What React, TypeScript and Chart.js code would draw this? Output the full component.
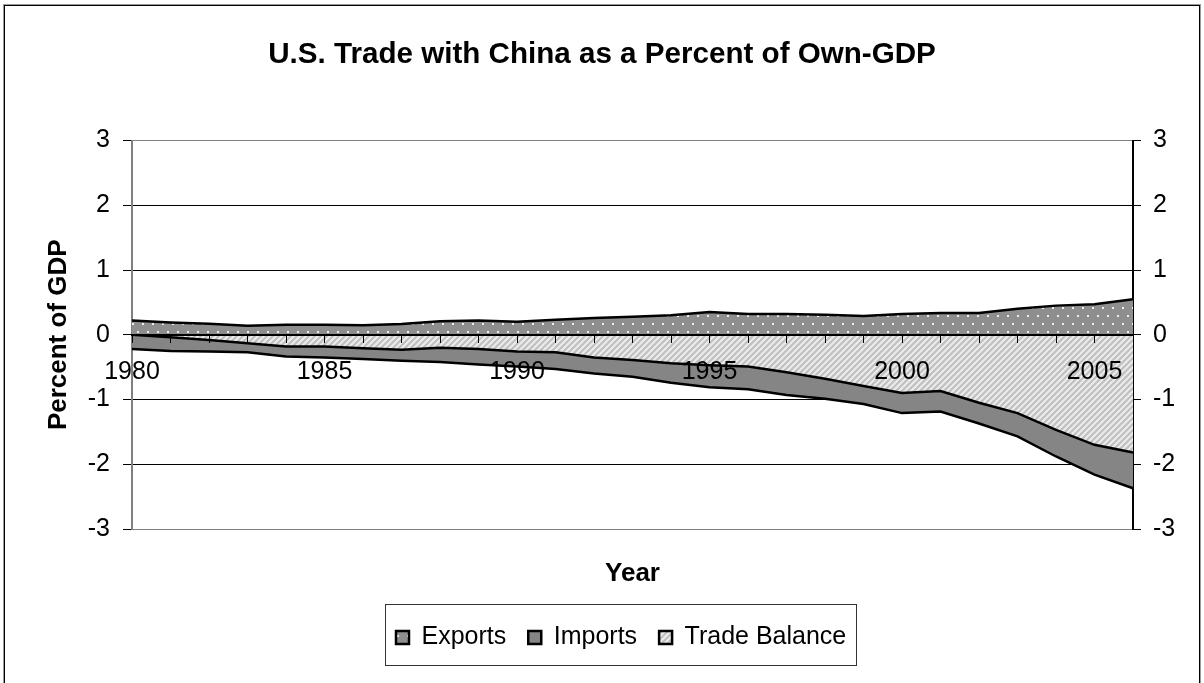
import React, { useEffect, useRef } from 'react';
import { Chart, registerables } from 'chart.js';

Chart.register(...registerables);

const years = [1980, 1981, 1982, 1983, 1984, 1985, 1986, 1987, 1988, 1989, 1990, 1991, 1992, 1993, 1994, 1995, 1996, 1997, 1998, 1999, 2000, 2001, 2002, 2003, 2004, 2005, 2006];
const exportsPct = [0.22, 0.19, 0.17, 0.14, 0.155, 0.155, 0.145, 0.165, 0.21, 0.22, 0.2, 0.23, 0.26, 0.28, 0.3, 0.35, 0.32, 0.32, 0.31, 0.29, 0.32, 0.335, 0.335, 0.4, 0.45, 0.47, 0.55];
const importsPct = [-0.22, -0.25, -0.26, -0.27, -0.335, -0.35, -0.375, -0.4, -0.42, -0.46, -0.49, -0.53, -0.6, -0.65, -0.74, -0.81, -0.84, -0.93, -0.99, -1.07, -1.21, -1.185, -1.37, -1.57, -1.88, -2.16, -2.37];
const balancePct = [0, -0.04, -0.08, -0.13, -0.18, -0.18, -0.21, -0.23, -0.2, -0.22, -0.26, -0.27, -0.35, -0.39, -0.44, -0.47, -0.49, -0.58, -0.68, -0.79, -0.9, -0.87, -1.05, -1.21, -1.47, -1.7, -1.82];
const labeledYears = [1980, 1985, 1990, 1995, 2000, 2005];
const yMin = -3;
const yMax = 3;

const FONT = "'Liberation Sans', Arial, sans-serif";

function makeDots(): CanvasPattern {
  const c = document.createElement('canvas');
  c.width = 10;
  c.height = 16;
  const g = c.getContext('2d')!;
  g.fillStyle = '#8e8e8e';
  g.fillRect(0, 0, 10, 16);
  g.fillStyle = '#eeeeee';
  g.fillRect(2, 3, 2, 2);
  g.fillRect(7, 11, 2, 2);
  return g.createPattern(c, 'repeat')!;
}

function makeHatch(): CanvasPattern {
  const c = document.createElement('canvas');
  c.width = 6;
  c.height = 6;
  const g = c.getContext('2d')!;
  g.fillStyle = '#c0c0c0';
  g.fillRect(0, 0, 6, 6);
  g.strokeStyle = '#ececec';
  g.lineWidth = 2;
  g.beginPath();
  g.moveTo(-1, 7);
  g.lineTo(7, -1);
  g.moveTo(-4, 4);
  g.lineTo(4, -4);
  g.moveTo(2, 10);
  g.lineTo(10, 2);
  g.stroke();
  return g.createPattern(c, 'repeat')!;
}

export default function App() {
  const ref = useRef<HTMLCanvasElement>(null);

  useEffect(() => {
    document.body.style.margin = '0';
    const canvas = ref.current!;
    const dots = makeDots();
    const hatch = makeHatch();

    const framePlugin = {
      id: 'frameAndLegendBox',
      beforeDraw(chart: any) {
        const ctx = chart.ctx;
        ctx.save();
        ctx.fillStyle = '#ffffff';
        ctx.fillRect(0, 0, chart.width, chart.height);
        ctx.restore();
      },
      afterLayout(chart: any) {
        const lg = chart.legend;
        if (!lg || !lg.lineWidths) return;
        const pad = 22;
        const sx = (lg.left + pad + lg.right - lg.lineWidths[0]) / 2;
        const dx = 396 - sx;
        lg.left += dx;
        lg.right += dx;
      },
      afterDraw(chart: any) {
        const ctx = chart.ctx;
        ctx.save();
        ctx.strokeStyle = '#9a9a9a';
        ctx.lineWidth = 1;
        ctx.strokeRect(3.5, 4.5, 1197, 690);
        ctx.strokeStyle = '#000000';
        ctx.strokeRect(4.5, 5.5, 1195, 690);
        const lg = chart.legend;
        if (lg && lg.legendHitBoxes && lg.legendHitBoxes.length) {
          const hb = lg.legendHitBoxes;
          const first = hb[0];
          const last = hb[hb.length - 1];
          const x1 = Math.round(first.left - 11) + 0.5;
          const x2 = Math.round(last.left + last.width + 10) + 0.5;
          const cy = first.top + first.height / 2;
          const y1 = Math.round(cy - 34) + 0.5;
          const y2 = Math.round(cy + 27) + 0.5;
          ctx.strokeStyle = '#333333';
          ctx.strokeRect(x1, y1, x2 - x1, y2 - y1);
        }
        ctx.restore();
      },
    };

    const chart = new Chart(canvas, {
      type: 'line',
      data: {
        labels: years.map(String),
        datasets: [
          {
            label: 'Exports',
            data: exportsPct,
            backgroundColor: dots,
            borderColor: '#000000',
            borderWidth: 2.5,
            fill: 'origin',
            pointRadius: 0,
            tension: 0,
            order: 0,
          },
          {
            label: 'Imports',
            data: importsPct,
            backgroundColor: '#858585',
            borderColor: '#000000',
            borderWidth: 2.5,
            fill: 'origin',
            pointRadius: 0,
            tension: 0,
            order: 2,
          },
          {
            label: 'Trade Balance',
            data: balancePct,
            backgroundColor: hatch,
            borderColor: '#000000',
            borderWidth: 2.5,
            fill: 'origin',
            pointRadius: 0,
            tension: 0,
            order: 1,
          },
        ],
      },
      options: {
        responsive: false,
        maintainAspectRatio: false,
        animation: false,
        devicePixelRatio: 1,
        events: [],
        layout: { padding: { top: 10, left: 10, right: 10, bottom: 23 } },
        plugins: {
          title: {
            display: true,
            text: 'U.S. Trade with China as a Percent of Own-GDP',
            color: '#000000',
            font: { family: FONT, size: 29.6, weight: 'bold' },
            padding: { top: 27, bottom: 68 },
          },
          legend: {
            display: true,
            position: 'bottom',
            labels: {
              color: '#000000',
              font: { family: FONT, size: 25 },
              boxWidth: 13,
              boxHeight: 13,
              padding: 22,
              sort: (a: any, b: any) => a.datasetIndex - b.datasetIndex,
            },
          },
          tooltip: { enabled: false },
        },
        scales: {
          x: {
            type: 'category',
            position: { y: 0 } as any,
            offset: false,
            grid: { drawOnChartArea: false, drawTicks: true, tickLength: 7, color: '#000000', lineWidth: 1, z: 1 },
            border: { display: true, color: '#000000', width: 2, z: 1 },
            ticks: {
              z: 1,
              autoSkip: false,
              maxRotation: 0,
              minRotation: 0,
              padding: 15,
              color: '#000000',
              font: { family: FONT, size: 25 },
              callback: (_v: any, i: number) => (labeledYears.includes(years[i]) ? String(years[i]) : ''),
            },
          },
          x2: {
            type: 'category',
            position: 'bottom',
            grid: { display: false },
            border: { display: false },
            ticks: { display: false },
            title: {
              display: true,
              text: 'Year',
              color: '#000000',
              font: { family: FONT, size: 26, weight: 'bold' },
              padding: { top: 0, bottom: 14 },
            },
            afterFit: (s: any) => {
              s.height = 74;
            },
          },
          y: {
            position: 'left',
            min: yMin,
            max: yMax,
            ticks: { stepSize: 1, padding: 13, color: '#000000', font: { family: FONT, size: 25 } },
            grid: {
              color: (c: any) => (c.tick && Math.abs(c.tick.value) === 3 ? '#808080' : '#000000'),
              tickColor: '#000000',
              tickLength: 9,
              lineWidth: 1,
            },
            border: { color: '#808080', width: 2 },
            title: {
              display: true,
              text: 'Percent of GDP',
              color: '#000000',
              font: { family: FONT, size: 26, weight: 'bold' },
              padding: { top: 33, bottom: 0 },
            },
            afterFit: (s: any) => {
              s.width = 122;
            },
          },
          y2: {
            position: 'right',
            min: yMin,
            max: yMax,
            ticks: { stepSize: 1, padding: 12, color: '#000000', font: { family: FONT, size: 25 } },
            grid: { drawOnChartArea: false, tickLength: 8, color: '#000000' },
            border: { color: '#000000', width: 2 },
            afterFit: (s: any) => {
              s.width = 61;
            },
          },
        },
      } as any,
      plugins: [framePlugin],
    });

    return () => chart.destroy();
  }, []);

  return (
    <div style={{ width: 1204, height: 683 }}>
      <canvas ref={ref} width={1204} height={683} style={{ display: 'block', width: 1204, height: 683 }} />
    </div>
  );
}
